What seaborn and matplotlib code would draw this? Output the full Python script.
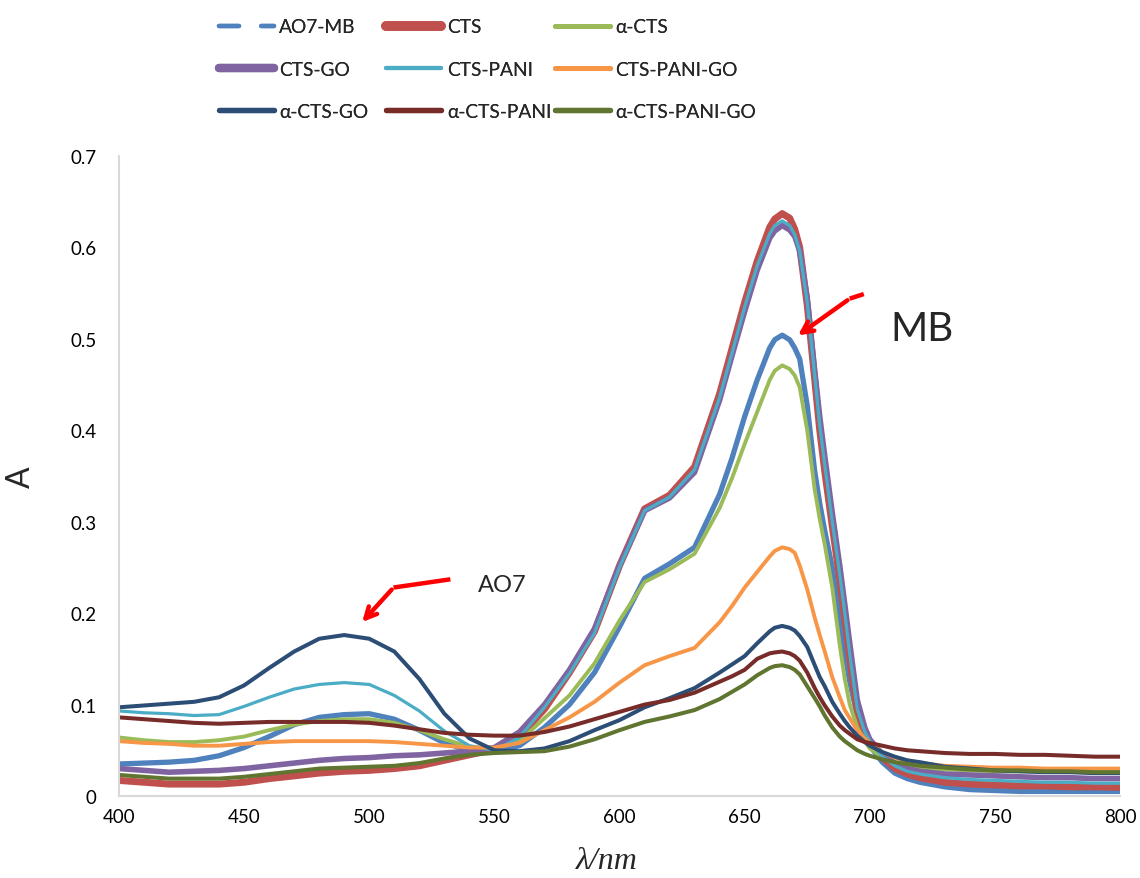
import pandas as pd
import matplotlib
matplotlib.use('Agg')
import matplotlib.pyplot as plt
from matplotlib.lines import Line2D
from matplotlib.ticker import FuncFormatter
import seaborn as sns

# wavelength grid (nm), denser around the MB band
wl = [400, 410, 420, 430, 440, 450, 460, 470, 480, 490, 500, 510, 520, 530, 540, 550,
      560, 570, 580, 590, 600, 610, 620, 630, 640,
      645,
      650, 655, 660, 662, 665, 668, 670, 672, 675, 678, 680, 682, 685, 688, 690, 692, 695, 698, 700,
      705, 710, 715, 720,
      730, 740, 750, 760, 770, 780, 790, 800]

ao7_mb = [0.035, 0.036, 0.037, 0.039, 0.044, 0.053, 0.065, 0.078, 0.086, 0.089, 0.090, 0.084, 0.072, 0.058, 0.050, 0.049,
          0.055, 0.075, 0.100, 0.135, 0.185, 0.238, 0.254, 0.272, 0.330,
          0.370,
          0.415, 0.455, 0.490, 0.499, 0.504, 0.499, 0.490, 0.478, 0.427, 0.355, 0.320, 0.290, 0.250, 0.195, 0.155, 0.125, 0.088, 0.066, 0.055,
          0.037, 0.025, 0.019, 0.015,
          0.010, 0.007, 0.006, 0.005, 0.005, 0.005, 0.005, 0.005]
cts = [0.017, 0.015, 0.013, 0.013, 0.013, 0.015, 0.019, 0.022, 0.025, 0.027, 0.028, 0.030, 0.033, 0.039, 0.045, 0.051,
       0.065, 0.095, 0.135, 0.180, 0.252, 0.314, 0.329, 0.360, 0.440,
       0.490,
       0.540, 0.585, 0.622, 0.631, 0.637, 0.632, 0.620, 0.600, 0.537, 0.455, 0.400, 0.355, 0.295, 0.237, 0.195, 0.150, 0.092, 0.068, 0.058,
       0.042, 0.030, 0.024, 0.020,
       0.015, 0.013, 0.012, 0.011, 0.011, 0.010, 0.010, 0.0095]
a_cts = [0.064, 0.061, 0.059, 0.059, 0.061, 0.065, 0.072, 0.078, 0.082, 0.084, 0.084, 0.080, 0.072, 0.062, 0.054, 0.051,
         0.060, 0.085, 0.110, 0.145, 0.192, 0.234, 0.248, 0.265, 0.315,
         0.348,
         0.385, 0.420, 0.455, 0.465, 0.471, 0.467, 0.460, 0.447, 0.400, 0.335, 0.303, 0.275, 0.228, 0.165, 0.128, 0.100, 0.075, 0.060, 0.052,
         0.042, 0.036, 0.033, 0.031,
         0.029, 0.028, 0.027, 0.027, 0.027, 0.027, 0.027, 0.027]
cts_go = [0.030, 0.028, 0.026, 0.027, 0.028, 0.030, 0.033, 0.036, 0.039, 0.041, 0.042, 0.044, 0.045, 0.047, 0.049, 0.053,
          0.070, 0.100, 0.138, 0.183, 0.252, 0.312, 0.326, 0.354, 0.433,
          0.482,
          0.530, 0.575, 0.610, 0.618, 0.624, 0.619, 0.612, 0.596, 0.545, 0.465, 0.415, 0.372, 0.310, 0.252, 0.210, 0.167, 0.105, 0.075, 0.062,
          0.046, 0.036, 0.030, 0.027,
          0.024, 0.023, 0.022, 0.021, 0.020, 0.020, 0.019, 0.019]
cts_pani = [0.093, 0.091, 0.090, 0.088, 0.089, 0.098, 0.108, 0.117, 0.122, 0.124, 0.122, 0.110, 0.093, 0.071, 0.055, 0.050,
            0.064, 0.097, 0.134, 0.178, 0.250, 0.312, 0.327, 0.357, 0.436,
            0.485,
            0.535, 0.580, 0.615, 0.624, 0.629, 0.624, 0.614, 0.596, 0.540, 0.460, 0.405, 0.362, 0.300, 0.242, 0.200, 0.155, 0.095, 0.070, 0.060,
            0.043, 0.033, 0.027, 0.024,
            0.020, 0.018, 0.017, 0.016, 0.015, 0.015, 0.014, 0.014]
cts_pani_go = [0.060, 0.058, 0.057, 0.055, 0.055, 0.057, 0.059, 0.060, 0.060, 0.060, 0.060, 0.059, 0.057, 0.055, 0.053, 0.053,
               0.058, 0.072, 0.086, 0.103, 0.124, 0.143, 0.153, 0.162, 0.190,
               0.208,
               0.228, 0.245, 0.262, 0.268, 0.272, 0.270, 0.266, 0.252, 0.226, 0.195, 0.176, 0.158, 0.130, 0.108, 0.094, 0.085, 0.072, 0.063, 0.058,
               0.048, 0.042, 0.038, 0.036,
               0.033, 0.032, 0.031, 0.031, 0.030, 0.030, 0.030, 0.030]
a_cts_go = [0.097, 0.099, 0.101, 0.103, 0.108, 0.121, 0.140, 0.158, 0.172, 0.176, 0.172, 0.158, 0.128, 0.090, 0.063, 0.050,
            0.049, 0.052, 0.060, 0.072, 0.083, 0.097, 0.107, 0.118, 0.135,
            0.144,
            0.153, 0.167, 0.180, 0.184, 0.186, 0.184, 0.181, 0.175, 0.163, 0.143, 0.130, 0.120, 0.103, 0.090, 0.082, 0.075, 0.066, 0.059, 0.055,
            0.048, 0.043, 0.039, 0.037,
            0.032, 0.030, 0.028, 0.027, 0.026, 0.026, 0.025, 0.025]
a_cts_pani = [0.086, 0.084, 0.082, 0.080, 0.079, 0.080, 0.081, 0.081, 0.081, 0.081, 0.080, 0.077, 0.073, 0.069, 0.067, 0.066,
              0.066, 0.070, 0.076, 0.084, 0.092, 0.100, 0.105, 0.113, 0.125,
              0.131,
              0.138, 0.150, 0.156, 0.157, 0.158, 0.156, 0.153, 0.148, 0.135, 0.118, 0.108, 0.099, 0.087, 0.077, 0.072, 0.068, 0.062, 0.059, 0.058,
              0.055, 0.052, 0.050, 0.049,
              0.047, 0.046, 0.046, 0.045, 0.045, 0.044, 0.043, 0.043]
a_cts_pani_go = [0.023, 0.021, 0.019, 0.019, 0.019, 0.021, 0.024, 0.027, 0.030, 0.031, 0.032, 0.033, 0.036, 0.041, 0.045, 0.047,
                 0.048, 0.049, 0.054, 0.062, 0.072, 0.081, 0.087, 0.094, 0.106,
                 0.114,
                 0.122, 0.132, 0.140, 0.142, 0.143, 0.141, 0.138, 0.133, 0.120, 0.107, 0.098, 0.088, 0.075, 0.065, 0.060, 0.056, 0.050, 0.046, 0.044,
                 0.040, 0.037, 0.035, 0.033,
                 0.031, 0.029, 0.028, 0.028, 0.027, 0.027, 0.026, 0.026]

names = ['AO7-MB', 'CTS', 'α-CTS', 'CTS-GO', 'CTS-PANI', 'CTS-PANI-GO',
         'α-CTS-GO', 'α-CTS-PANI', 'α-CTS-PANI-GO']
series = [ao7_mb, cts, a_cts, cts_go, cts_pani, cts_pani_go, a_cts_go, a_cts_pani, a_cts_pani_go]
colores = ['#4F81BD', '#C0504D', '#9BBB59', '#8064A2', '#4BACC6', '#F79646',
           '#2C4D75', '#772C2A', '#5F7530']
# grosor de linea en el grafico y en la leyenda
anchos = [3.8, 5.0, 2.8, 4.0, 2.3, 2.8, 2.9, 2.9, 2.9]
anchos_leg = [3.2, 7.0, 3.6, 6.0, 3.0, 3.6, 3.8, 3.8, 3.8]

df = pd.concat([pd.DataFrame({'wl': wl, 'A': s, 'serie': n}) for n, s in zip(names, series)],
               ignore_index=True)

sns.set_style('white')
plt.rcParams['font.family'] = ['Lato', 'DejaVu Sans']

fig = plt.figure(figsize=(11.4, 8.79), dpi=100)
ax = fig.add_axes([0.1044, 0.0933, 0.8781, 0.7281])

sns.lineplot(data=df, x='wl', y='A', hue='serie', size='serie',
             hue_order=names, size_order=names,
             palette=dict(zip(names, colores)), sizes=dict(zip(names, anchos)),
             sort=False, legend=False, ax=ax)
for ln in ax.get_lines():
    ln.set_solid_capstyle('round')
    ln.set_solid_joinstyle('round')

ax.set_xlim(400, 800)
ax.set_ylim(0, 0.7)
ax.set_xticks(range(400, 801, 50))
ax.set_yticks([0, 0.1, 0.2, 0.3, 0.4, 0.5, 0.6, 0.7])
ax.yaxis.set_major_formatter(FuncFormatter(lambda v, p: '%g' % round(v, 1)))
ax.tick_params(axis='both', length=0, labelsize=13.5, colors='black')
ax.tick_params(axis='y', pad=16)
ax.tick_params(axis='x', pad=9)
for s in ['top', 'right']:
    ax.spines[s].set_visible(False)
for s in ['left', 'bottom']:
    ax.spines[s].set_color('#d9d9d9')
    ax.spines[s].set_linewidth(1.5)

ax.set_xlabel('λ/nm', family=['Liberation Serif', 'DejaVu Serif'], style='italic', fontsize=23)
ax.set_ylabel('A', fontsize=23)
ax.xaxis.set_label_coords(0.487, -0.078)
ax.yaxis.set_label_coords(-0.083, 0.5)

# flechas y etiquetas
ax.plot([697.6, 692.0], [0.549, 0.544], color='red', lw=3.2, solid_capstyle='butt')
ax.annotate('', xy=(670.4, 0.502), xytext=(692.0, 0.544),
            arrowprops=dict(arrowstyle='->,head_length=0.8,head_width=0.4', color='red', lw=3.2))
ax.text(721, 0.511, 'MB', fontsize=29, ha='center', va='center')

ax.plot([532.4, 509.7], [0.237, 0.228], color='red', lw=3.2, solid_capstyle='butt')
ax.annotate('', xy=(496.4, 0.188), xytext=(509.7, 0.228),
            arrowprops=dict(arrowstyle='->,head_length=0.8,head_width=0.4', color='red', lw=3.2))
ax.text(553, 0.231, 'AO7', fontsize=17, ha='center', va='center')

# leyenda: tres columnas colocadas por separado
handles = []
for i, n in enumerate(names):
    if n == 'AO7-MB':
        h = Line2D([], [], color=colores[i], lw=anchos_leg[i], linestyle=(0, (4.5, 5)),
                   dash_capstyle='round')
    else:
        h = Line2D([], [], color=colores[i], lw=anchos_leg[i], solid_capstyle='round')
    handles.append(h)

x_cols = [0.192, 0.339, 0.487]
for c in range(3):
    idx = [c, c + 3, c + 6]
    leg = fig.legend([handles[i] for i in idx], [names[i] for i in idx],
                     loc='upper left', bbox_to_anchor=(x_cols[c], 0.978),
                     frameon=False, fontsize=13.8, handlelength=2.85, handletextpad=0.3,
                     labelspacing=1.32, borderpad=0, borderaxespad=0)
    fig.add_artist(leg)

fig.savefig('out.png', dpi=100)
